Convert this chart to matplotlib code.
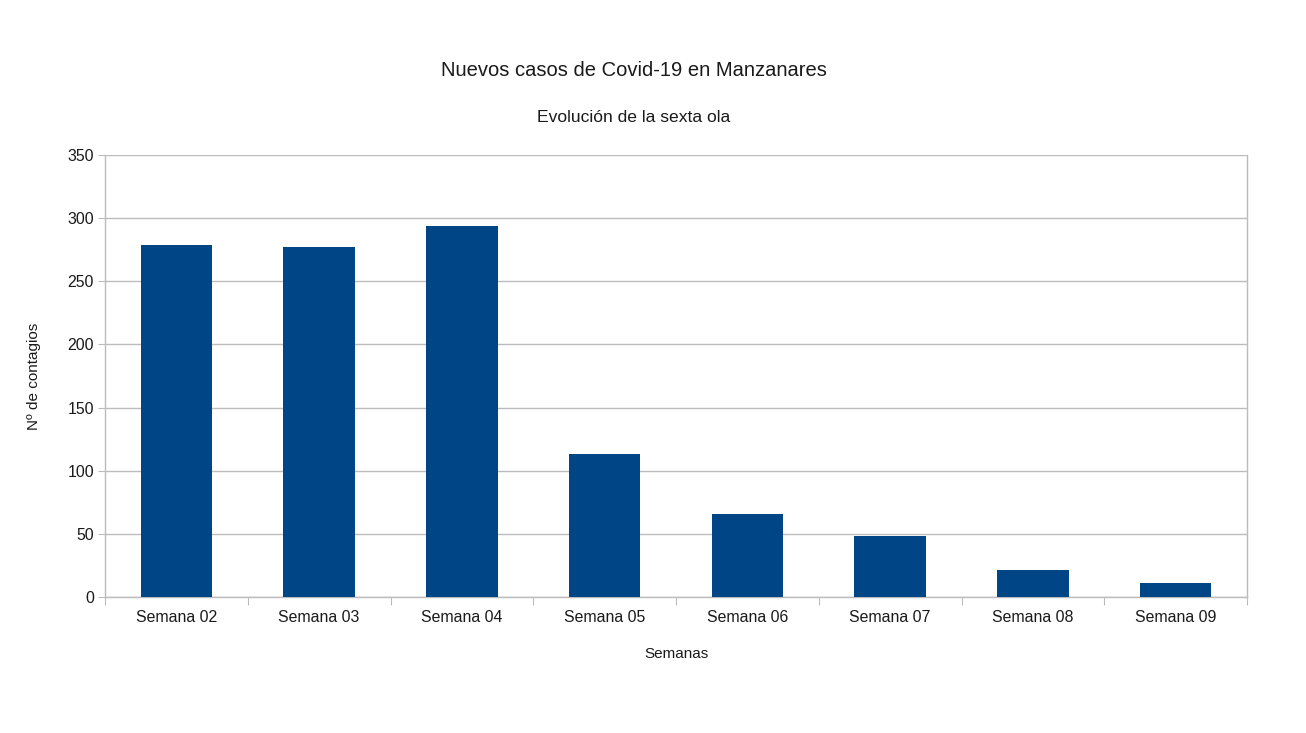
import matplotlib
matplotlib.use("Agg")
import matplotlib.pyplot as plt
import numpy as np

plt.rcParams['font.family'] = ['Liberation Sans', 'DejaVu Sans']

# data
semanas = ["Semana 02", "Semana 03", "Semana 04", "Semana 05",
           "Semana 06", "Semana 07", "Semana 08", "Semana 09"]
casos = [279, 277, 294, 113, 66, 48, 21, 11]
y_ticks = [0, 50, 100, 150, 200, 250, 300, 350]

bar_color = "#004586"
grid_color = "#bcbcbc"
text_color = "#1a1a1a"

fig = plt.figure(figsize=(13.06, 7.33), dpi=100)
ax = fig.add_axes([105 / 1306, 136 / 733, 1142 / 1306, 442 / 733])

x = np.arange(len(semanas))
ax.bar(x, casos, width=0.5, color=bar_color, zorder=3)

ax.set_xlim(-0.5, len(semanas) - 0.5)
ax.set_ylim(0, 350)
ax.set_yticks(y_ticks)
ax.yaxis.grid(True, color=grid_color, linewidth=1, zorder=0)

# category boundaries get the tick marks, labels sit in the middle
ax.set_xticks(np.arange(-0.5, len(semanas)), labels=[""] * (len(semanas) + 1))
ax.set_xticks(x, labels=semanas, minor=True)
ax.tick_params(axis='x', which='major', length=6, color=grid_color, direction='out')
ax.tick_params(axis='x', which='minor', length=0, pad=9.5, labelsize=11.4, labelcolor=text_color)
ax.tick_params(axis='y', length=5, color=grid_color, labelsize=11.4, labelcolor=text_color, pad=3)

ax.spines['top'].set_visible(False)
for s in ['left', 'bottom', 'right']:
    ax.spines[s].set_color(grid_color)
    ax.spines[s].set_linewidth(1)

ax.set_xlabel("Semanas", fontsize=11, color=text_color, labelpad=16)
ax.set_ylabel("Nº de contagios", fontsize=11, color=text_color, labelpad=19)

fig.text(634 / 1306, 1 - 70 / 733, "Nuevos casos de Covid-19 en Manzanares",
         ha='center', va='center', fontsize=14.5, color=text_color)
fig.text(634 / 1306, 1 - 117 / 733, "Evolución de la sexta ola",
         ha='center', va='center', fontsize=12.6, color=text_color)

fig.savefig("out.png", dpi=100, facecolor="white")
